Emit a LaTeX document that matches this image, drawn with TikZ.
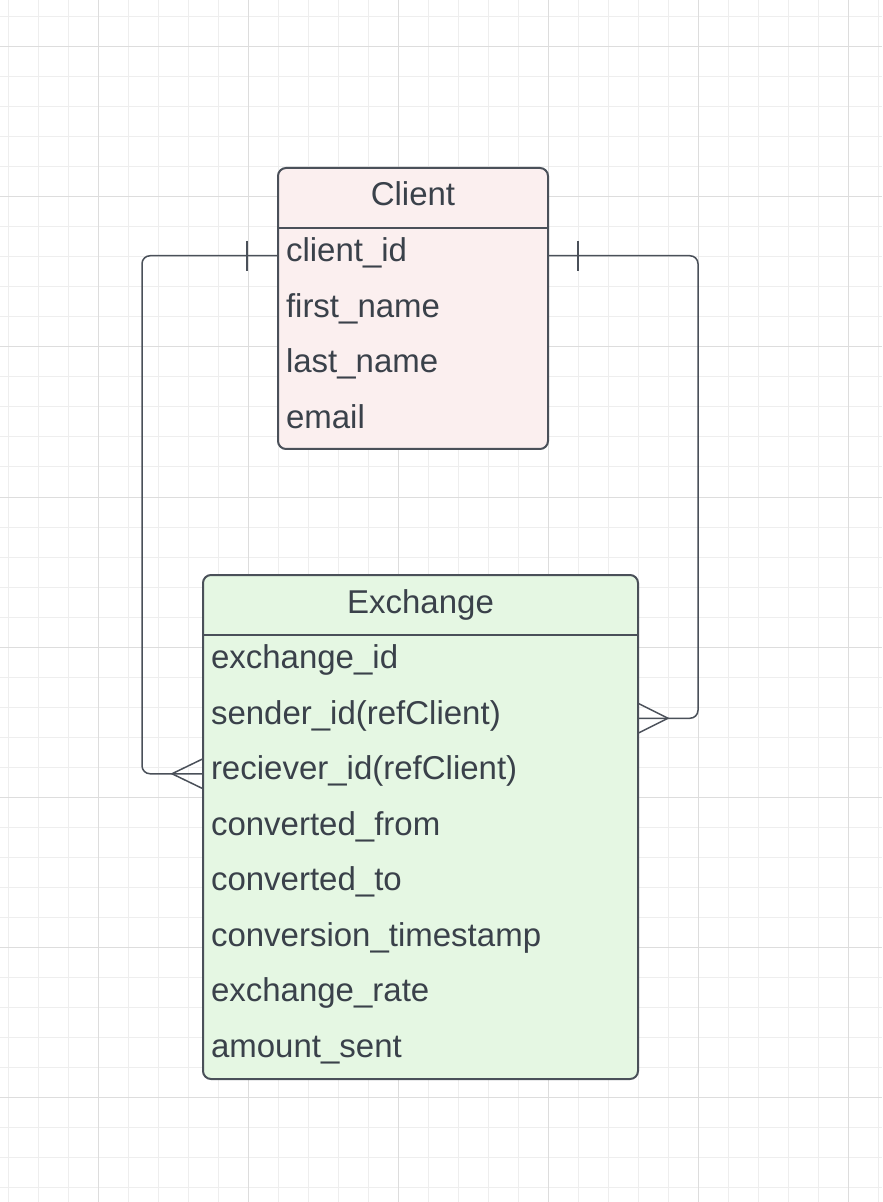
\documentclass[tikz,border=0pt]{standalone}
\usepackage{fontspec}
\setmainfont{Liberation Sans}
\definecolor{inkgray}{HTML}{3A414A}
\definecolor{linegray}{HTML}{4A5059}
\definecolor{clientfill}{HTML}{FBEFEF}
\definecolor{exchfill}{HTML}{E5F7E3}
\definecolor{gridminor}{HTML}{EEEEEE}
\definecolor{gridmajor}{HTML}{DDDDDD}

\begin{document}
\begin{tikzpicture}[x=0.5pt, y=-0.5pt,
        table/.style={draw=linegray, line width=1pt, rounded corners=4pt, inner sep=0pt, outer sep=0pt, anchor=north west},
        title/.style={font=\fontsize{16.5}{20}\selectfont, text=inkgray, text height=11pt, text depth=3pt, inner sep=0pt},
        field/.style={font=\fontsize{16.5}{20}\selectfont, text=inkgray, text width=#1, align=left, inner xsep=4pt, inner ysep=0pt,
            outer sep=0pt, minimum height=27.75pt, text height=10pt, text depth=4pt, anchor=north west},
        rel/.style={draw=linegray, line width=0.75pt}]
        \useasboundingbox (0,0) rectangle (882,1202);

        % Grid paper
        \foreach \x in {8,38,...,878} \draw[gridminor, line width=0.5pt] (\x,0) -- (\x,1202);
        \foreach \y in {17,47,...,1200} \draw[gridminor, line width=0.5pt] (0,\y) -- (882,\y);
        \foreach \x in {98,248,...,848} \draw[gridmajor, line width=0.5pt] (\x,0) -- (\x,1202);
        \foreach \y in {47,197,...,1200} \draw[gridmajor, line width=0.5pt] (0,\y) -- (882,\y);

        % Client table
        \node[table, fill=clientfill, minimum width=135pt, minimum height=140.5pt] (client) at (278,168) {};
        \node[title] (clienthd) at (413,198) {Client};
        \foreach \f/\n [count=\k] in {client\_id/cid, first\_name/cfirst, last\_name/clast, email/cemail} {
            \node[field=127pt] (\n) at (278,{228+55.5*(\k-1)}) {\f};
        }
        \draw[rel, line width=1pt] (cid.north west) -- (cid.north east);

        % Exchange table
        \node[table, fill=exchfill, minimum width=217.5pt, minimum height=252pt] (exchange) at (203,575) {};
        \node[title] (exchangehd) at (420.5,605) {Exchange};
        \foreach \f/\n [count=\k] in {exchange\_id/eid, sender\_id(refClient)/send, reciever\_id(refClient)/recv,
                converted\_from/efrom, converted\_to/eto, conversion\_timestamp/etime, exchange\_rate/erate, amount\_sent/eamount} {
            \node[field=209.5pt] (\n) at (203,{635+55.5*(\k-1)}) {\f};
        }
        \draw[rel, line width=1pt] (eid.north west) -- (eid.north east);

        % Relations
        \coordinate (lbend) at (142,500);
        \coordinate (rbend) at (698,500);
        \draw[rel, rounded corners=4pt] (cid.west) -| (lbend) |- (recv.west);
        \draw[rel, rounded corners=4pt] (cid.east) -| (rbend) |- (send.east);

        % one side
        \draw[rel] (cid.west) ++(-31,-15) -- ++(0,30);
        \draw[rel] (cid.east) ++(30,-15) -- ++(0,30);

        % many side
        \draw[rel] (recv.west) ++(0,-15) -- ++(-31,15) -- ++(31,15);
        \draw[rel] (send.east) ++(0,-15) -- ++(30,15) -- ++(-30,15);
    \end{tikzpicture}
\end{document}
